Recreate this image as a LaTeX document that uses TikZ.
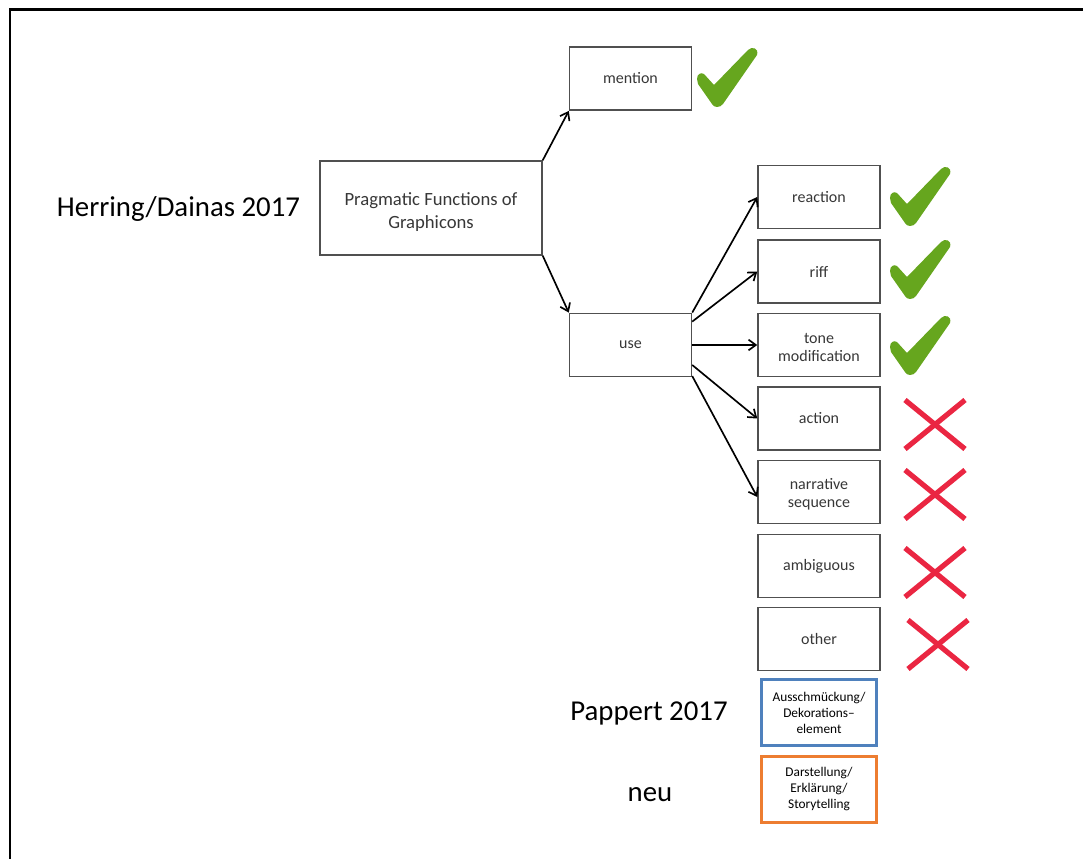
\documentclass[tikz,border=0pt]{standalone}
\usepackage{fontspec}
\setmainfont{Carlito}
\usetikzlibrary{arrows.meta}
\definecolor{checkgreen}{RGB}{102,166,30}
\definecolor{crossred}{RGB}{234,38,66}
\definecolor{boxblue}{RGB}{79,129,189}
\definecolor{boxorange}{RGB}{237,125,49}
\definecolor{boxgray}{RGB}{80,80,80}
\definecolor{txtgray}{RGB}{55,55,55}
\tikzset{
  fbox/.style={draw=boxgray, line width=1.1pt, inner sep=0pt, align=center,
    text=txtgray, font=\fontsize{12}{13.5}\selectfont,
    minimum width=91.5pt, minimum height=47.5pt},
  mainbox/.style={fbox, minimum width=166.5pt, minimum height=70.5pt,
    font=\fontsize{14}{17}\selectfont},
  smallbox/.style={draw, line width=2.2pt, inner sep=0pt, align=center,
    text=black, font=\fontsize{10}{12}\selectfont,
    minimum width=86.5pt, minimum height=50pt},
  biglabel/.style={inner sep=0pt, font=\fontsize{21.6}{26}\selectfont},
  conn/.style={line width=1.25pt, -{Straight Barb[length=5.5pt,width=8pt]}},
  checkmark/.pic={
    \fill[checkgreen] (0,32) .. controls (0,27) and (4,25) .. (7,27)
      -- (17,38) -- (51,3) .. controls (55,-1) and (62,1) .. (60,8)
      -- (26,57) .. controls (23,61) and (17,61) .. (15,57)
      -- (1,37) .. controls (0,35) .. cycle;
  },
  crossmark/.pic={
    \draw[crossred, line width=3.9pt] (0,0) -- (60,49) (60,0) -- (0,49);
  }
}
\begin{document}
\begin{tikzpicture}[x=0.75pt,y=-0.75pt]
\useasboundingbox (0,0) rectangle (1083,859);
\draw[line width=1.6pt] (10,859) -- (10,9.5) -- (1083,9.5);

\node[mainbox] (main) at (431,208) {\rule{0pt}{16pt}Pragmatic Functions of\\Graphicons};
\node[fbox] (mention) at (630.5,78.5) {mention};
\node[fbox] (use) at (630.5,345) {use};

\node[fbox] (reaction) at (819,197) {reaction};
\node[fbox] (riff) at (819,271.5) {riff};
\node[fbox] (tone) at (819,345) {\rule{0pt}{11pt}tone\\modification};
\node[fbox] (action) at (819,418.5) {action};
\node[fbox] (narrative) at (819,492) {\rule{0pt}{11pt}narrative\\sequence};
\node[fbox] (ambiguous) at (819,566) {ambiguous};
\node[fbox] (other) at (819,639) {other};
\node[smallbox, draw=boxblue] (deko) at (819,712.5) {Ausschmückung/\\Dekorations--\\element};
\node[smallbox, draw=boxorange] (darst) at (819,789.5) {Darstellung/\\Erklärung/\\Storytelling};

\node[biglabel] (herring) at (178.5,209) {Herring/Dainas 2017};
\node[biglabel] (pappert) at (649,713) {Pappert 2017};
\node[biglabel] (neu) at (650,795) {neu};

\draw[conn] (main.north east) -- (mention.south west);
\draw[conn] (main.south east) -- (use.north west);
\draw[conn] (use.north east) -- (reaction.west);
\draw[conn] ([yshift=-6.75pt]use.north east) -- (riff.west);
\draw[conn] (use.east) -- (tone.west);
\draw[conn] ([yshift=-15pt]use.east) -- (action.west);
\draw[conn] ([yshift=1pt]use.south east) -- ([yshift=-3.75pt]narrative.west);

\pic at (697,47) {checkmark};
\pic at (890,166) {checkmark};
\pic at (890,239) {checkmark};
\pic at (890,315) {checkmark};

\pic at (905,400) {crossmark};
\pic at (905,470) {crossmark};
\pic at (905,548) {crossmark};
\pic at (908,620) {crossmark};
\end{tikzpicture}
\end{document}
